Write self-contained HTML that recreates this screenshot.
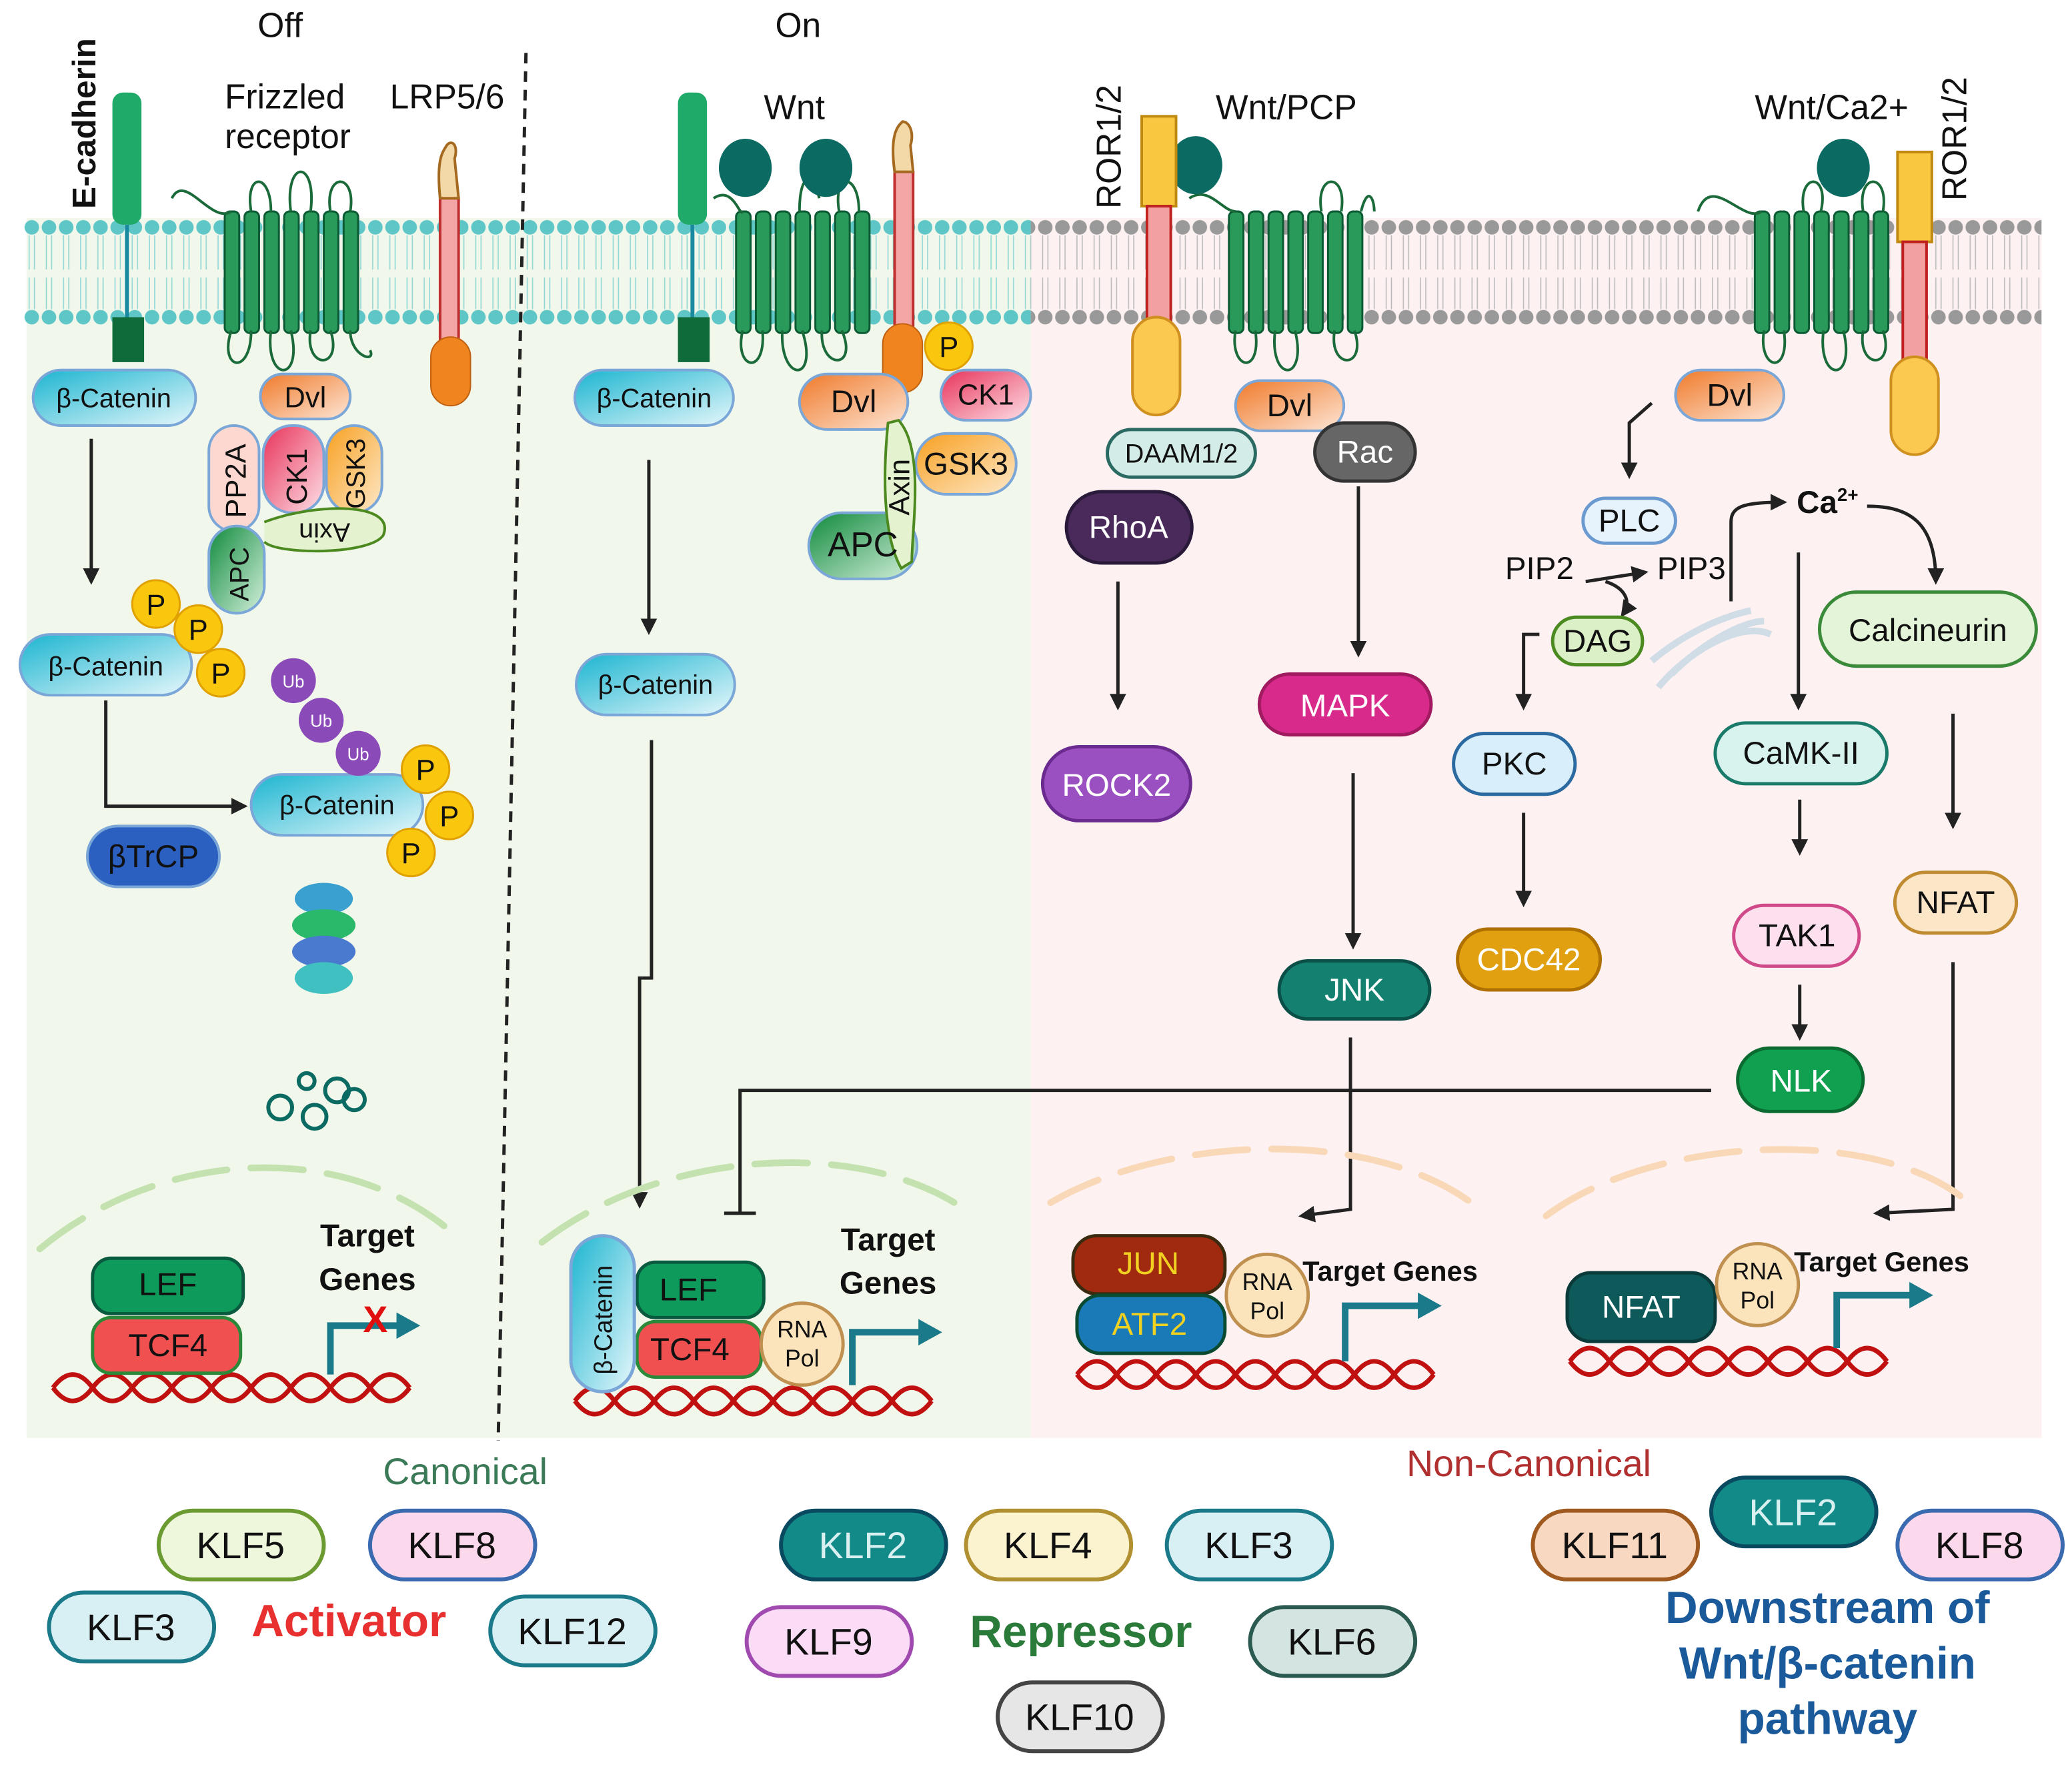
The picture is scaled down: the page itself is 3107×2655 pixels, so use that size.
<!DOCTYPE html>
<html><head><meta charset="utf-8"><style>html,body{margin:0;padding:0;background:#fff}svg{display:block}text{font-family:"Liberation Sans",sans-serif}</style></head><body>
<svg width="3107" height="2655" viewBox="0 0 1568 1340" xmlns="http://www.w3.org/2000/svg">
<defs>
<pattern id="memL" x="18" y="0" width="13" height="260" patternUnits="userSpaceOnUse">
<circle cx="6" cy="172" r="5.5" fill="#5ec6c6"/><circle cx="6" cy="240" r="5.5" fill="#5ec6c6"/>
<path d="M4 178 L4 204 M8 178 L8 204 M4 210 L4 234 M8 210 L8 234" stroke="#8fd6d6" stroke-width="0.8"/></pattern>
<pattern id="memR" x="18" y="0" width="13" height="260" patternUnits="userSpaceOnUse">
<circle cx="6" cy="172" r="5.5" fill="#999"/><circle cx="6" cy="240" r="5.5" fill="#999"/>
<path d="M4 178 L4 204 M8 178 L8 204 M4 210 L4 234 M8 210 L8 234" stroke="#bbb" stroke-width="0.8"/></pattern>
<marker id="ar" viewBox="0 0 10 10" refX="8" refY="5" markerWidth="5" markerHeight="5" orient="auto"><path d="M0 0 L10 5 L0 10z" fill="#222"/></marker>
<linearGradient id="cy" x1="0" y1="0" x2="1" y2="1"><stop offset="0" stop-color="#1bb5d0"/><stop offset="1" stop-color="#e6f7fb"/></linearGradient>
<linearGradient id="or" x1="0" y1="0" x2="1" y2="1"><stop offset="0" stop-color="#f07a2a"/><stop offset="1" stop-color="#fde6d6"/></linearGradient>
<linearGradient id="gr" x1="0" y1="0" x2="1" y2="1"><stop offset="0" stop-color="#0f8a3c"/><stop offset="1" stop-color="#d4f0dc"/></linearGradient>
<linearGradient id="pk" x1="0" y1="0" x2="1" y2="1"><stop offset="0" stop-color="#e8325a"/><stop offset="1" stop-color="#fde0e6"/></linearGradient>
<linearGradient id="gs" x1="0" y1="0" x2="1" y2="1"><stop offset="0" stop-color="#f8a020"/><stop offset="1" stop-color="#fde8c8"/></linearGradient>
</defs>
<rect x="20" y="165" width="760" height="923" fill="#f1f7ea"/>
<rect x="780" y="165" width="765" height="923" fill="#fdf1f1"/>
<rect x="18" y="160" width="762" height="90" fill="url(#memL)"/>
<rect x="780" y="160" width="765" height="90" fill="url(#memR)"/>
<line x1="398" y1="40" x2="377" y2="1090" stroke="#222" stroke-width="2.5" stroke-dasharray="8,6"/>
<g font-size="26" fill="#111">
<text x="212" y="28" text-anchor="middle">Off</text><text x="604" y="28" text-anchor="middle">On</text>
<text x="170" y="82">Frizzled</text><text x="170" y="112">receptor</text><text x="295" y="82">LRP5/6</text>
<text x="578" y="90">Wnt</text><text x="920" y="90">Wnt/PCP</text><text x="1328" y="90">Wnt/Ca2+</text>
<text transform="translate(72,158) rotate(-90)" font-weight="bold" font-size="25">E-cadherin</text>
<text transform="translate(848,158) rotate(-90)">ROR1/2</text>
<text transform="translate(1488,152) rotate(-90)">ROR1/2</text>
</g>
<!-- E-cadherins -->
<g fill="#1faa6a"><rect x="85" y="70" width="22" height="100" rx="8"/><rect x="513" y="70" width="22" height="100" rx="8"/></g>
<line x1="96" y1="170" x2="96" y2="245" stroke="#1a8aa0" stroke-width="3"/><line x1="524" y1="170" x2="524" y2="245" stroke="#1a8aa0" stroke-width="3"/>
<rect x="85" y="240" width="24" height="34" fill="#0f6b3a"/><rect x="513" y="240" width="24" height="34" fill="#0f6b3a"/>
<!-- Frizzled -->
<g fill="#2a9a5a" stroke="#0b5a34" stroke-width="1.5">
<rect x="170" y="160" width="11" height="92" rx="4"/><rect x="185" y="160" width="11" height="92" rx="4"/><rect x="200" y="160" width="11" height="92" rx="4"/><rect x="215" y="160" width="11" height="92" rx="4"/><rect x="230" y="160" width="11" height="92" rx="4"/><rect x="245" y="160" width="11" height="92" rx="4"/><rect x="260" y="160" width="11" height="92" rx="4"/>
<rect x="557" y="160" width="11" height="92" rx="4"/><rect x="572" y="160" width="11" height="92" rx="4"/><rect x="587" y="160" width="11" height="92" rx="4"/><rect x="602" y="160" width="11" height="92" rx="4"/><rect x="617" y="160" width="11" height="92" rx="4"/><rect x="632" y="160" width="11" height="92" rx="4"/><rect x="647" y="160" width="11" height="92" rx="4"/>
<rect x="930" y="160" width="11" height="92" rx="4"/><rect x="945" y="160" width="11" height="92" rx="4"/><rect x="960" y="160" width="11" height="92" rx="4"/><rect x="975" y="160" width="11" height="92" rx="4"/><rect x="990" y="160" width="11" height="92" rx="4"/><rect x="1005" y="160" width="11" height="92" rx="4"/><rect x="1020" y="160" width="11" height="92" rx="4"/>
<rect x="1328" y="160" width="11" height="92" rx="4"/><rect x="1343" y="160" width="11" height="92" rx="4"/><rect x="1358" y="160" width="11" height="92" rx="4"/><rect x="1373" y="160" width="11" height="92" rx="4"/><rect x="1388" y="160" width="11" height="92" rx="4"/><rect x="1403" y="160" width="11" height="92" rx="4"/><rect x="1418" y="160" width="11" height="92" rx="4"/>
</g>
<g fill="none" stroke="#1a6a3a" stroke-width="2">
<path d="M130 150 C140 130 160 170 175 160 M190 160 C185 130 205 130 205 160 M220 160 C215 120 240 120 235 160 M250 160 C245 130 270 130 265 160"/>
<path d="M175 250 C165 280 190 285 190 250 M205 250 C200 290 230 290 220 250 M235 250 C230 280 260 280 250 250 M265 250 C265 270 285 275 280 265"/>
<path d="M540 150 C555 140 560 165 562 160 M605 160 C605 130 615 130 620 150 M635 160 C630 130 650 130 650 160"/>
<path d="M562 250 C555 280 580 285 577 250 M592 250 C590 290 620 290 607 250 M622 250 C620 280 650 280 637 250"/>
<path d="M900 150 C915 140 925 160 935 160 M1000 160 C995 130 1020 130 1015 160 M1030 160 C1035 140 1040 150 1040 160"/>
<path d="M935 250 C930 280 955 285 950 250 M965 250 C960 290 990 290 980 250 M1010 250 C1005 280 1035 280 1025 250"/>
<path d="M1285 160 C1295 130 1320 170 1333 160 M1365 160 C1360 130 1385 130 1378 160 M1410 160 C1405 130 1430 130 1425 160"/>
<path d="M1335 250 C1330 280 1355 285 1350 250 M1380 250 C1375 290 1405 290 1395 250 M1410 250 C1405 280 1435 280 1425 250"/>
</g>
<g fill="#0b6a62"><ellipse cx="564" cy="127" rx="20" ry="22"/><ellipse cx="625" cy="127" rx="20" ry="22"/><ellipse cx="905" cy="125" rx="20" ry="22"/><ellipse cx="1395" cy="127" rx="20" ry="22"/></g>
<!-- LRP -->
<rect x="333" y="150" width="14" height="110" fill="#f4a5a5" stroke="#c03030" stroke-width="2"/>
<path d="M333 150 C330 120 335 115 338 110 C342 105 347 110 344 120 L347 150z" fill="#f3d9a8" stroke="#a56a20" stroke-width="2"/>
<rect x="326" y="255" width="30" height="52" rx="15" fill="#f0841e" stroke="#c06010"/>
<rect x="677" y="130" width="14" height="130" fill="#f4a5a5" stroke="#c03030" stroke-width="2"/>
<path d="M677 130 C673 100 680 95 683 92 C688 92 692 100 689 110 L691 130z" fill="#f3d9a8" stroke="#a56a20" stroke-width="2"/>
<rect x="668" y="245" width="30" height="52" rx="15" fill="#f0841e" stroke="#c06010"/>
<!-- ROR -->
<rect x="864" y="88" width="26" height="68" fill="#f9c840" stroke="#c08a10" stroke-width="2"/><rect x="868" y="156" width="18" height="90" fill="#f3a0a0" stroke="#c02020" stroke-width="2"/><rect x="857" y="240" width="36" height="74" rx="18" fill="#fbc850" stroke="#d09020" stroke-width="2"/>
<rect x="1436" y="115" width="26" height="68" fill="#f9c840" stroke="#c08a10" stroke-width="2"/><rect x="1440" y="183" width="18" height="90" fill="#f3a0a0" stroke="#c02020" stroke-width="2"/><rect x="1431" y="270" width="36" height="74" rx="18" fill="#fbc850" stroke="#d09020" stroke-width="2"/>
<!-- pills -->
<g stroke="#7aa6d8" stroke-width="2">
<rect x="25" y="280" width="123" height="42" rx="21" fill="url(#cy)"/>
<rect x="197" y="283" width="68" height="34" rx="17" fill="url(#or)"/>
<rect x="158" y="322" width="38" height="80" rx="19" fill="#fcd8d0"/>
<rect x="199" y="322" width="46" height="66" rx="22" fill="url(#pk)"/>
<rect x="247" y="322" width="42" height="66" rx="21" fill="url(#gs)"/>
<rect x="158" y="398" width="42" height="66" rx="21" fill="url(#gr)"/>
<rect x="15" y="480" width="130" height="46" rx="23" fill="url(#cy)"/>
<rect x="190" y="586" width="130" height="46" rx="23" fill="url(#cy)"/>
<rect x="435" y="280" width="120" height="42" rx="21" fill="url(#cy)"/>
<rect x="605" y="283" width="82" height="42" rx="21" fill="url(#or)"/>
<rect x="712" y="280" width="68" height="38" rx="19" fill="url(#pk)"/>
<rect x="693" y="328" width="76" height="46" rx="23" fill="url(#gs)"/>
<rect x="612" y="388" width="82" height="50" rx="25" fill="url(#gr)"/>
<rect x="436" y="495" width="120" height="46" rx="23" fill="url(#cy)"/>
<rect x="935" y="288" width="82" height="38" rx="19" fill="url(#or)"/>
<rect x="1268" y="280" width="82" height="38" rx="19" fill="url(#or)"/>
</g>
<path d="M200 395 C240 380 300 380 290 405 C280 420 210 420 200 410" fill="#e4f2d0" stroke="#4c8a20" stroke-width="2"/>
<path d="M680 318 C700 340 690 400 690 425 L682 430 C665 400 670 340 672 320z" fill="#e4f2d0" stroke="#4c8a20" stroke-width="2"/>
<g font-size="22" fill="#111">
<text x="86" y="308" text-anchor="middle" font-size="20">β-Catenin</text>
<text x="231" y="308" text-anchor="middle">Dvl</text>
<text transform="translate(186,392) rotate(-90)">PP2A</text>
<text transform="translate(232,382) rotate(-90)">CK1</text>
<text transform="translate(276,385) rotate(-90)" font-size="20">GSK3</text>
<text transform="translate(188,455) rotate(-90)" font-size="20">APC</text>
<text transform="translate(265,396) rotate(180)" font-size="20">Axin</text>
<text x="80" y="511" text-anchor="middle" font-size="20">β-Catenin</text>
<text x="255" y="616" text-anchor="middle" font-size="20">β-Catenin</text>
<text x="495" y="308" text-anchor="middle" font-size="20">β-Catenin</text>
<text x="646" y="312" text-anchor="middle" font-size="24">Dvl</text>
<text x="746" y="306" text-anchor="middle">CK1</text>
<text x="731" y="359" text-anchor="middle" font-size="24">GSK3</text>
<text x="653" y="421" text-anchor="middle" font-size="26">APC</text>
<text transform="translate(688,390) rotate(-90)" font-size="22">Axin</text>
<text x="496" y="525" text-anchor="middle" font-size="20">β-Catenin</text>
<text x="976" y="315" text-anchor="middle" font-size="24">Dvl</text>
<text x="1309" y="307" text-anchor="middle" font-size="24">Dvl</text>
</g>
<!-- P circles -->
<g fill="#f9c80e" stroke="#e0a000" stroke-width="1.5"><circle cx="118" cy="457" r="18"/><circle cx="150" cy="476" r="18"/><circle cx="167" cy="509" r="18"/><circle cx="322" cy="582" r="18"/><circle cx="340" cy="617" r="18"/><circle cx="311" cy="645" r="18"/><circle cx="718" cy="262" r="18"/></g>
<g font-size="22" fill="#111" text-anchor="middle"><text x="118" y="465">P</text><text x="150" y="484">P</text><text x="167" y="517">P</text><text x="322" y="590">P</text><text x="340" y="625">P</text><text x="311" y="653">P</text><text x="718" y="270">P</text></g>
<g fill="#8a4ab8"><circle cx="222" cy="515" r="17"/><circle cx="243" cy="545" r="17"/><circle cx="271" cy="570" r="17"/></g>
<g fill="#fff" font-size="13" text-anchor="middle"><text x="222" y="520">Ub</text><text x="243" y="550">Ub</text><text x="271" y="575">Ub</text></g>
<rect x="66" y="625" width="100" height="46" rx="23" fill="#2b5fc0" stroke="#7aa6d8" stroke-width="2"/><text x="116" y="656" text-anchor="middle" font-size="24" fill="#111">βTrCP</text>
<!-- proteasome -->
<g><ellipse cx="245" cy="680" rx="22" ry="12" fill="#3aa0d0"/><ellipse cx="245" cy="700" rx="24" ry="12" fill="#2ab86a"/><ellipse cx="245" cy="720" rx="24" ry="12" fill="#4a7ad0"/><ellipse cx="245" cy="740" rx="22" ry="12" fill="#40c0c0"/></g>
<g fill="none" stroke="#0b6a62" stroke-width="3"><circle cx="212" cy="838" r="9"/><circle cx="238" cy="845" r="9"/><circle cx="255" cy="825" r="9"/><circle cx="268" cy="832" r="8"/><circle cx="232" cy="818" r="6"/></g>
<!-- arrows left -->
<g stroke="#222" stroke-width="2.5" fill="none" marker-end="url(#ar)">
<line x1="69" y1="332" x2="69" y2="440"/>
<path d="M80 530 L80 610 L185 610"/>
<line x1="491" y1="348" x2="491" y2="478"/>
<path d="M493 560 L493 740 L484 740 L484 912"/>
<line x1="846" y1="440" x2="846" y2="535"/>
<line x1="1028" y1="368" x2="1028" y2="495"/>
<line x1="1024" y1="585" x2="1024" y2="716"/>
<path d="M1022 785 L1022 915 L985 920"/>
<line x1="1153" y1="615" x2="1153" y2="684"/>
<path d="M1165 480 L1153 480 L1153 535"/>
<path d="M1250 305 L1233 320 L1233 360"/>
<line x1="1361" y1="418" x2="1361" y2="535"/>
<line x1="1362" y1="605" x2="1362" y2="645"/>
<line x1="1362" y1="745" x2="1362" y2="785"/>
<path d="M1413 383 C1445 383 1465 395 1465 440"/>
<path d="M1310 455 L1310 395 C1310 383 1320 380 1350 380"/>
<line x1="1478" y1="540" x2="1478" y2="625"/>
<path d="M1478 728 L1478 915 L1420 918"/>
<path d="M1200 440 L1245 433"/>
<path d="M1215 440 C1230 445 1235 455 1228 465"/>
</g>
<path d="M1295 825 L560 825 L560 918 M548 918 L572 918" stroke="#222" stroke-width="2.5" fill="none"/>
<!-- non canonical pills -->
<g stroke-width="2.5">
<rect x="838" y="325" width="112" height="36" rx="18" fill="#d4ece8" stroke="#2a6a62"/>
<rect x="995" y="320" width="76" height="44" rx="22" fill="#666" stroke="#333"/>
<rect x="807" y="372" width="95" height="54" rx="27" fill="#4a2a5a" stroke="#2a1a3a"/>
<rect x="953" y="510" width="130" height="46" rx="23" fill="#d82a8a" stroke="#a01a60"/>
<rect x="789" y="565" width="112" height="56" rx="28" fill="#9a50c0" stroke="#6a2a90"/>
<rect x="968" y="727" width="114" height="44" rx="22" fill="#138070" stroke="#0a5048"/>
<rect x="1103" y="703" width="108" height="46" rx="23" fill="#e0a010" stroke="#b07000"/>
<rect x="1100" y="555" width="92" height="46" rx="23" fill="#d8eefa" stroke="#2a6aa0"/>
<rect x="1198" y="377" width="70" height="34" rx="17" fill="#e6f2fc" stroke="#6a9ad0"/>
<rect x="1175" y="467" width="68" height="36" rx="18" fill="#dcf0c8" stroke="#4a8a20"/>
<rect x="1377" y="448" width="164" height="56" rx="28" fill="#e4f4d8" stroke="#3a8a3a"/>
<rect x="1298" y="547" width="130" height="46" rx="23" fill="#d8f2ee" stroke="#1a7a6a"/>
<rect x="1312" y="685" width="95" height="46" rx="23" fill="#fce0ee" stroke="#d04a8a"/>
<rect x="1434" y="660" width="92" height="46" rx="23" fill="#fbe6c8" stroke="#c08a30"/>
<rect x="1315" y="793" width="95" height="48" rx="24" fill="#10a050" stroke="#0a6a30"/>
</g>
<g font-size="24" text-anchor="middle">
<text x="894" y="350" font-size="20" fill="#111">DAAM1/2</text>
<text x="1033" y="350" fill="#fff">Rac</text>
<text x="854" y="407" fill="#fff">RhoA</text>
<text x="1018" y="542" fill="#fff">MAPK</text>
<text x="845" y="602" fill="#fff">ROCK2</text>
<text x="1025" y="757" fill="#fff">JNK</text>
<text x="1157" y="734" fill="#fff">CDC42</text>
<text x="1146" y="586" fill="#111">PKC</text>
<text x="1233" y="402" fill="#111">PLC</text>
<text x="1209" y="493" fill="#111">DAG</text>
<text x="1459" y="485" fill="#111">Calcineurin</text>
<text x="1363" y="578" fill="#111">CaMK-II</text>
<text x="1360" y="716" fill="#111">TAK1</text>
<text x="1480" y="691" fill="#111">NFAT</text>
<text x="1363" y="826" fill="#fff">NLK</text>
<text x="1165" y="438" fill="#111">PIP2</text>
<text x="1280" y="438" fill="#111">PIP3</text>
<text x="1383" y="388" fill="#111" font-weight="bold">Ca<tspan font-size="14" dy="-9">2+</tspan></text>
</g>
<g fill="none" stroke="#d0dce6" stroke-width="5"><path d="M1255 520 C1280 490 1320 470 1340 480 M1265 510 C1290 485 1320 470 1335 470 M1250 500 C1280 475 1310 465 1325 462"/></g>
<!-- nuclear membranes -->
<g fill="none" stroke-width="5" stroke-dasharray="40,18" stroke-linecap="round">
<path d="M30 945 C120 870 260 860 345 935" stroke="#c4e2b0"/>
<path d="M410 940 C500 870 650 860 730 915" stroke="#c4e2b0"/>
<path d="M795 910 C880 860 1040 850 1120 915" stroke="#f9d8b8"/>
<path d="M1170 920 C1250 860 1420 850 1490 910" stroke="#f9d8b8"/>
</g>
<!-- DNA -->
<g fill="none" stroke="#c01010" stroke-width="3.5">
<path d="M40 1050 q15-20 30 0 t30 0 t30 0 t30 0 t30 0 t30 0 t30 0 t30 0 t30 0"/>
<path d="M40 1050 q15 20 30 0 t30 0 t30 0 t30 0 t30 0 t30 0 t30 0 t30 0 t30 0"/>
<path d="M435 1060 q15-20 30 0 t30 0 t30 0 t30 0 t30 0 t30 0 t30 0 t30 0 t30 0"/>
<path d="M435 1060 q15 20 30 0 t30 0 t30 0 t30 0 t30 0 t30 0 t30 0 t30 0 t30 0"/>
<path d="M815 1040 q15-20 30 0 t30 0 t30 0 t30 0 t30 0 t30 0 t30 0 t30 0 t30 0"/>
<path d="M815 1040 q15 20 30 0 t30 0 t30 0 t30 0 t30 0 t30 0 t30 0 t30 0 t30 0"/>
<path d="M1188 1030 q15-20 30 0 t30 0 t30 0 t30 0 t30 0 t30 0 t30 0 t30 0"/>
<path d="M1188 1030 q15 20 30 0 t30 0 t30 0 t30 0 t30 0 t30 0 t30 0 t30 0"/>
</g>
<g fill="none" stroke="#1a7a8a" stroke-width="5">
<path d="M250 1040 L250 1003 L305 1003"/><path d="M645 1048 L645 1008 L700 1008"/><path d="M1018 1030 L1018 988 L1078 988"/><path d="M1390 1020 L1390 980 L1450 980"/></g>
<g fill="#1a7a8a"><path d="M300 993 L318 1003 L300 1013z"/><path d="M695 998 L713 1008 L695 1018z"/><path d="M1073 978 L1091 988 L1073 998z"/><path d="M1445 970 L1463 980 L1445 990z"/></g>
<text x="284" y="1008" font-size="28" fill="#e01010" font-weight="bold" text-anchor="middle">X</text>
<g stroke-width="2.5">
<rect x="70" y="952" width="114" height="42" rx="14" fill="#0e9a5a" stroke="#0a5a40"/>
<rect x="70" y="997" width="112" height="42" rx="14" fill="#f05050" stroke="#2a8a3a"/>
<rect x="482" y="955" width="96" height="42" rx="14" fill="#0e9a5a" stroke="#0a5a40"/>
<rect x="482" y="1000" width="94" height="42" rx="14" fill="#f05050" stroke="#2a8a3a"/>
<rect x="432" y="935" width="48" height="118" rx="24" fill="url(#cy)" stroke="#7aa6d8"/>
<circle cx="607" cy="1017" r="31" fill="#fbe4bc" stroke="#c09050"/>
<rect x="812" y="935" width="115" height="44" rx="18" fill="#a02a10" stroke="#3a2a10"/>
<rect x="815" y="980" width="112" height="44" rx="18" fill="#1a7ab8" stroke="#0a4a30"/>
<circle cx="959" cy="980" r="31" fill="#fbe4bc" stroke="#c09050"/>
<rect x="1186" y="963" width="112" height="52" rx="18" fill="#0e5a5a" stroke="#0a3a3a"/>
<circle cx="1330" cy="972" r="31" fill="#fbe4bc" stroke="#c09050"/>
</g>
<g font-size="24" text-anchor="middle">
<text x="127" y="980" fill="#111">LEF</text><text x="127" y="1026" fill="#111">TCF4</text>
<text x="521" y="984" fill="#111">LEF</text><text x="522" y="1029" fill="#111">TCF4</text>
<text transform="translate(463,1040) rotate(-90)" font-size="19" fill="#111" text-anchor="start">β-Catenin</text>
<text x="869" y="964" fill="#f0d020">JUN</text><text x="870" y="1010" fill="#f0d020">ATF2</text>
<text x="1242" y="997" fill="#fff">NFAT</text>
<text x="607" y="1012" font-size="18" fill="#111">RNA</text><text x="607" y="1034" font-size="18" fill="#111">Pol</text>
<text x="959" y="976" font-size="18" fill="#111">RNA</text><text x="959" y="998" font-size="18" fill="#111">Pol</text>
<text x="1330" y="968" font-size="18" fill="#111">RNA</text><text x="1330" y="990" font-size="18" fill="#111">Pol</text>
</g>
<g font-weight="bold" fill="#111" text-anchor="middle">
<text x="278" y="943" font-size="24">Target</text><text x="278" y="976" font-size="24">Genes</text>
<text x="672" y="946" font-size="24">Target</text><text x="672" y="979" font-size="24">Genes</text>
<text x="1052" y="969" font-size="21">Target Genes</text>
<text x="1424" y="962" font-size="21">Target Genes</text>
</g>
<!-- bottom -->
<text x="352" y="1123" font-size="28" fill="#3b7a57" text-anchor="middle">Canonical</text>
<text x="1157" y="1117" font-size="28" fill="#b03030" text-anchor="middle">Non-Canonical</text>
<g stroke-width="3" font-size="28">
<rect x="120" y="1143" width="125" height="52" rx="26" fill="#eef6dc" stroke="#6a9a30"/>
<rect x="280" y="1143" width="125" height="52" rx="26" fill="#fbd8ec" stroke="#3a6ab0"/>
<rect x="37" y="1205" width="125" height="52" rx="26" fill="#d8f0f4" stroke="#1a7a8a"/>
<rect x="371" y="1208" width="125" height="52" rx="26" fill="#d8f0f4" stroke="#1a7a8a"/>
<rect x="591" y="1143" width="125" height="52" rx="26" fill="#128a88" stroke="#0a4a60"/>
<rect x="731" y="1143" width="125" height="52" rx="26" fill="#fbf2d0" stroke="#b09030"/>
<rect x="883" y="1143" width="125" height="52" rx="26" fill="#d8f0f4" stroke="#1a7a8a"/>
<rect x="565" y="1216" width="125" height="52" rx="26" fill="#fbdcf6" stroke="#a04ab0"/>
<rect x="946" y="1216" width="125" height="52" rx="26" fill="#d4e4e0" stroke="#2a5a50"/>
<rect x="755" y="1273" width="125" height="52" rx="26" fill="#e6e6e6" stroke="#444"/>
<rect x="1160" y="1143" width="125" height="52" rx="26" fill="#f8d8c0" stroke="#a05a20"/>
<rect x="1295" y="1118" width="125" height="52" rx="26" fill="#128a88" stroke="#0a4a60"/>
<rect x="1436" y="1143" width="125" height="52" rx="26" fill="#fbd8ec" stroke="#3a6ab0"/>
</g>
<g font-size="28" text-anchor="middle" fill="#111">
<text x="182" y="1179">KLF5</text><text x="342" y="1179">KLF8</text><text x="99" y="1241">KLF3</text><text x="433" y="1244">KLF12</text>
<text x="653" y="1179" fill="#d8f0f0">KLF2</text><text x="793" y="1179">KLF4</text><text x="945" y="1179">KLF3</text>
<text x="627" y="1252">KLF9</text><text x="1008" y="1252">KLF6</text><text x="817" y="1309">KLF10</text>
<text x="1222" y="1179">KLF11</text><text x="1357" y="1154" fill="#d8f0f0">KLF2</text><text x="1498" y="1179">KLF8</text>
</g>
<g font-weight="bold" text-anchor="middle" font-size="34">
<text x="264" y="1238" fill="#e83030">Activator</text>
<text x="818" y="1246" fill="#2a7a3a">Repressor</text>
<text x="1383" y="1228" fill="#1a5a9a">Downstream of</text>
<text x="1383" y="1270" fill="#1a5a9a">Wnt/β-catenin</text>
<text x="1383" y="1312" fill="#1a5a9a">pathway</text>
</g>
</svg>
</body></html>
